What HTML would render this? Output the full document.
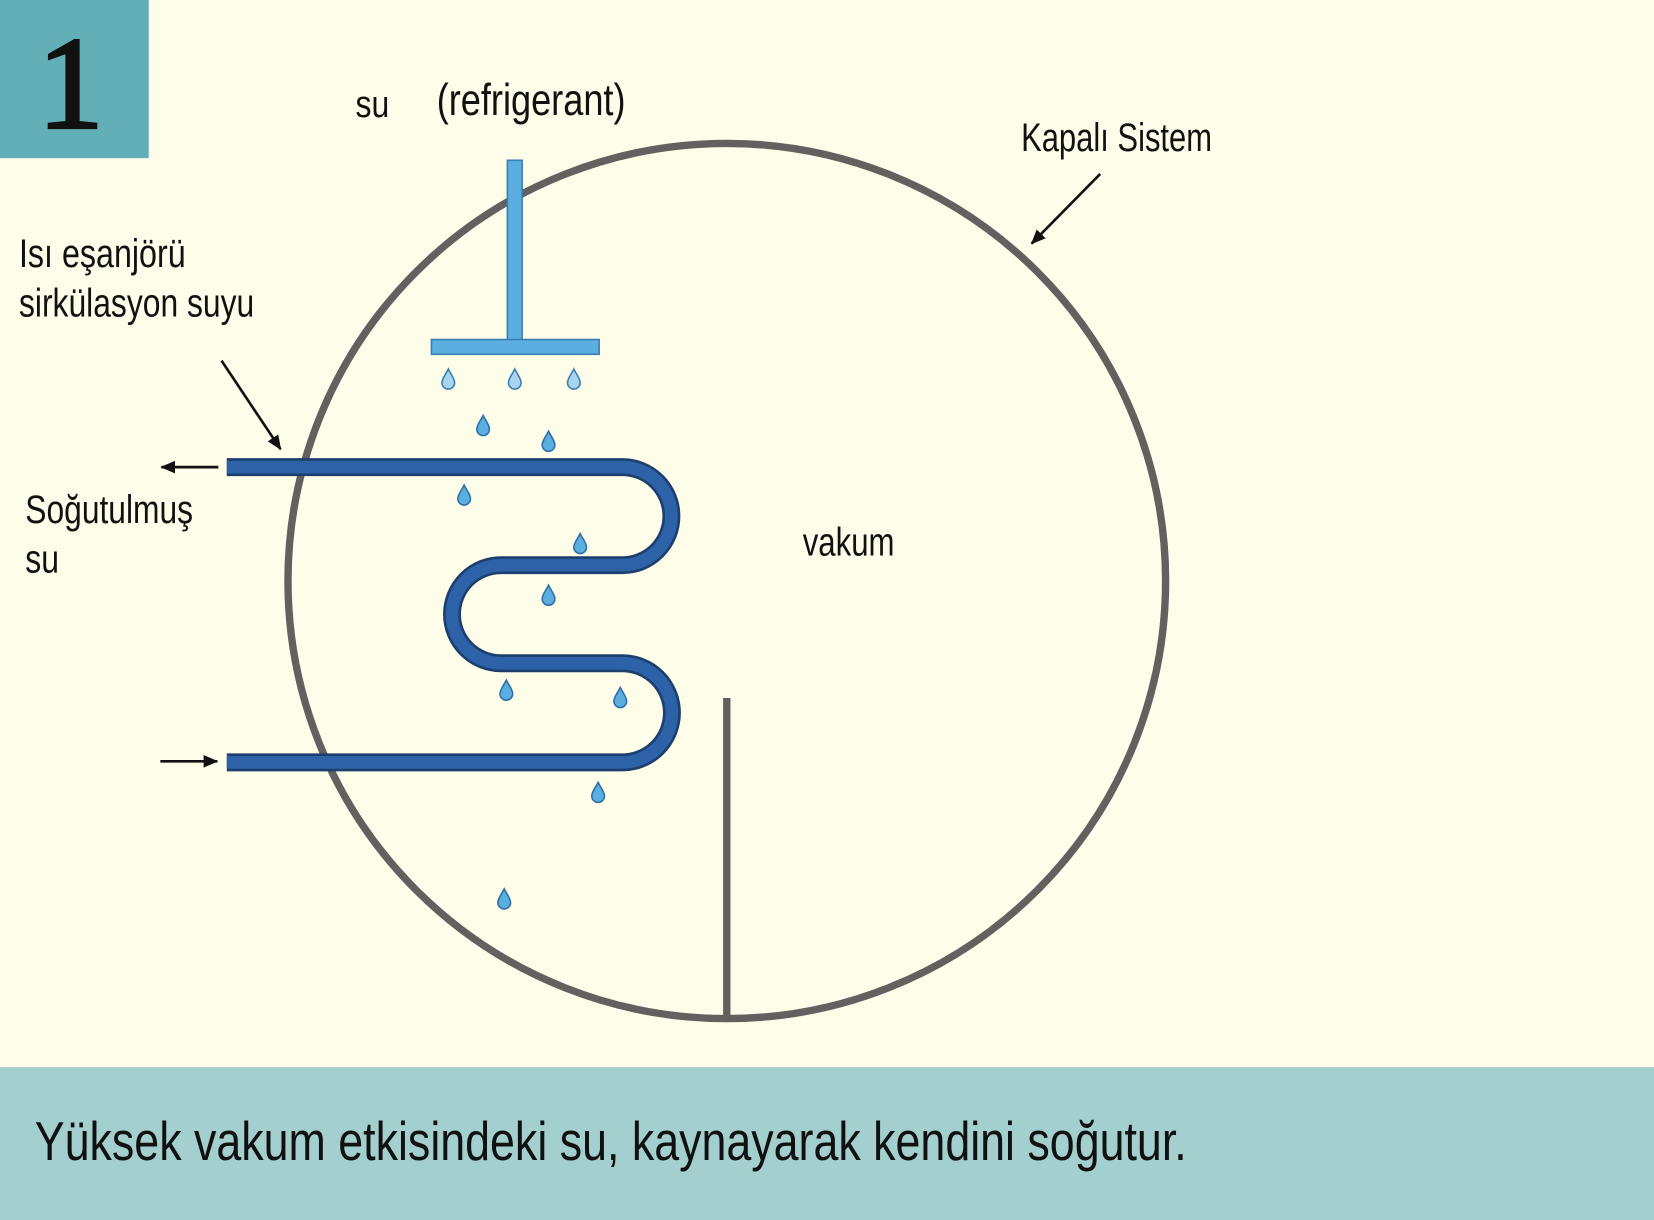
<!DOCTYPE html>
<html><head><meta charset="utf-8"><style>
html,body{margin:0;padding:0;background:#fdfde9;}
svg{display:block;}
text{font-family:"Liberation Sans",sans-serif;fill:#111;}
</style></head><body>
<svg width="1654" height="1220" viewBox="0 0 1568 1157" preserveAspectRatio="none" xmlns="http://www.w3.org/2000/svg">
<defs>
<marker id="ah" markerWidth="14" markerHeight="12" refX="13" refY="6" orient="auto" markerUnits="userSpaceOnUse" viewBox="0 0 14 12"><path d="M0,0 L14,6 L0,12 z" fill="#111"/></marker>
<path id="drop" d="M0,-11 C3,-5 6,-2 6,2 A6,6 0 0 1 -6,2 C-6,-2 -3,-5 0,-11 Z"/>
</defs>
<rect x="0" y="0" width="1568" height="1157" fill="#fdfde9"/>
<rect x="0" y="0" width="141" height="150" fill="#62afb8"/>
<text x="67" y="121" font-size="125" text-anchor="middle" stroke="#111" stroke-width="3" style="font-family:'Liberation Serif',serif">1</text>
<rect x="0" y="1012" width="1568" height="145" fill="#a3cfcf"/>
<text x="33" y="1100" font-size="52" textLength="1092" lengthAdjust="spacingAndGlyphs">Yüksek vakum etkisindeki su, kaynayarak kendini soğutur.</text>

<ellipse cx="689" cy="551" rx="416" ry="415" fill="none" stroke="#636060" stroke-width="7"/>
<line x1="689" y1="662" x2="689" y2="966" stroke="#636060" stroke-width="7"/>

<rect x="481" y="152" width="14" height="172" fill="#5aaee0" stroke="#3a7fb0" stroke-width="1.5"/>
<rect x="409" y="322" width="159" height="14" fill="#5aaee0" stroke="#3a7fb0" stroke-width="1.5"/>

<path d="M215,443 L590,443 A46.5,46.5 0 0 1 590,536 L475,536 A46.5,46.5 0 0 0 475,629 L590,629 A47,47 0 0 1 590,723 L215,723" fill="none" stroke="#1d3f6e" stroke-width="17"/>
<path d="M215,443 L590,443 A46.5,46.5 0 0 1 590,536 L475,536 A46.5,46.5 0 0 0 475,629 L590,629 A47,47 0 0 1 590,723 L215,723" fill="none" stroke="#2e62a8" stroke-width="12"/>

<g fill="#a9d4f0" stroke="#3a7fb0" stroke-width="1.5">
<use href="#drop" x="425" y="361"/><use href="#drop" x="488" y="361"/><use href="#drop" x="544" y="361"/>
</g>
<g fill="#5aaee0" stroke="#2f6fa5" stroke-width="1.5">
<use href="#drop" x="458" y="405"/><use href="#drop" x="520" y="420"/><use href="#drop" x="440" y="471"/>
<use href="#drop" x="550" y="517"/><use href="#drop" x="520" y="566"/><use href="#drop" x="480" y="656"/>
<use href="#drop" x="588" y="663"/><use href="#drop" x="567" y="753"/><use href="#drop" x="478" y="854"/>
</g>

<g stroke="#111" stroke-width="2.5">
<line x1="1043" y1="165" x2="978" y2="231" marker-end="url(#ah)"/>
<line x1="210" y1="342" x2="266" y2="426" marker-end="url(#ah)"/>
<line x1="207" y1="443" x2="153" y2="443" marker-end="url(#ah)"/>
<line x1="152" y1="722" x2="206" y2="722" marker-end="url(#ah)"/>
</g>

<text x="337" y="111" font-size="36" textLength="32" lengthAdjust="spacingAndGlyphs">su</text>
<text x="414" y="109" font-size="42" textLength="179" lengthAdjust="spacingAndGlyphs">(refrigerant)</text>
<text x="968" y="143" font-size="38" textLength="181" lengthAdjust="spacingAndGlyphs">Kapalı Sistem</text>
<text x="18" y="253" font-size="38" textLength="158" lengthAdjust="spacingAndGlyphs">Isı eşanjörü</text>
<text x="18" y="300" font-size="38" textLength="223" lengthAdjust="spacingAndGlyphs">sirkülasyon suyu</text>
<text x="24" y="496" font-size="38" textLength="159" lengthAdjust="spacingAndGlyphs">Soğutulmuş</text>
<text x="24" y="543" font-size="38" textLength="32" lengthAdjust="spacingAndGlyphs">su</text>
<text x="761" y="527" font-size="38" textLength="87" lengthAdjust="spacingAndGlyphs">vakum</text>
</svg>
</body></html>
